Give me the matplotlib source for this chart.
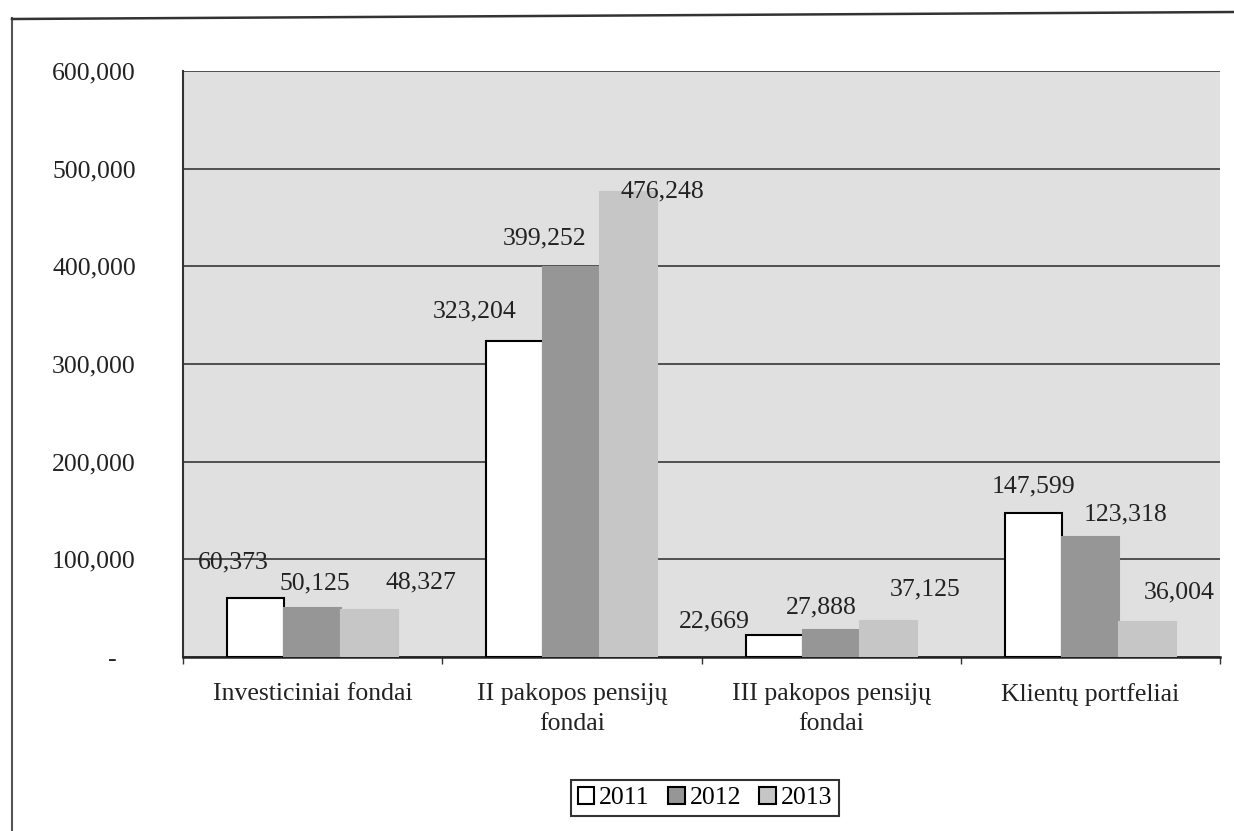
import matplotlib
matplotlib.use("Agg")
import matplotlib.pyplot as plt
from matplotlib.lines import Line2D
from matplotlib.ticker import FuncFormatter
import numpy as np

plt.rcParams['font.family'] = ['Liberation Serif', 'DejaVu Serif']

categories = ["Investiciniai fondai", "II pakopos pensijų\nfondai",
              "III pakopos pensijų\nfondai", "Klientų portfeliai"]
years = ["2011", "2012", "2013"]
values_2011 = [60373, 323204, 22669, 147599]
values_2012 = [50125, 399252, 27888, 123318]
values_2013 = [48327, 476248, 37125, 36004]
yticks = [0, 100000, 200000, 300000, 400000, 500000, 600000]

series = [values_2011, values_2012, values_2013]
face_colors = ["white", "#969696", "#c6c6c6"]
edge_colors = ["black", "#969696", "#c6c6c6"]
# label offsets in pixels relative to bar top centre (as placed in the original)
label_offsets = [
    [(-22, 36), (-40, 30), (-60, 13), (0, 26)],
    [(2, 25), (-27, 29), (-10, 22), (35, 22)],
    [(51, 27), (33, 0), (37, 31), (32, 29)],
]
FS = 18.5

fig = plt.figure(figsize=(12.34, 8.31), dpi=100)
ax = fig.add_axes([183/1234, 1-657/831, (1220-183)/1234, (657-71)/831])
ax.set_facecolor("#e0e0e0")

x = np.arange(len(categories))
w = 0.22
for i, (vals, fc, ec, yr) in enumerate(zip(series, face_colors, edge_colors, years)):
    pos = x + (i - 1) * w
    bars = ax.bar(pos, vals, width=w, color=fc, edgecolor=ec, linewidth=1.5,
                  label=yr, zorder=3)
    for j, (b, v) in enumerate(zip(bars, vals)):
        dx, dy = label_offsets[i][j]
        ax.annotate(f"{v:,}", (b.get_x() + b.get_width()/2, v),
                    xytext=(dx, dy), textcoords="offset pixels",
                    ha="center", va="center", fontsize=FS, color="#222222",
                    zorder=4)

ax.set_xlim(-0.5, len(categories) - 0.5)
ax.set_ylim(0, 600000)
ax.set_yticks(yticks)
ax.yaxis.set_major_formatter(FuncFormatter(lambda v, p: "-   " if v == 0 else f"{int(v):,}"))
ax.tick_params(axis="y", length=0, pad=34, labelsize=FS, labelcolor="#222222")
ax.grid(axis="y", color="#444444", linewidth=1.3, zorder=1)
ax.set_axisbelow(True)

ax.set_xticks(x)
ax.set_xticklabels(categories, fontsize=FS, color="#222222", linespacing=1.45)
ax.tick_params(axis="x", length=0, pad=19)
ax.set_xticks(np.arange(len(categories) + 1) - 0.5, minor=True)
ax.tick_params(axis="x", which="minor", length=5, width=1, color="#333333")

for s in ["top", "right"]:
    ax.spines[s].set_visible(False)
ax.spines["left"].set_color("#333333")
ax.spines["left"].set_linewidth(1.5)
ax.spines["bottom"].set_color("#222222")
ax.spines["bottom"].set_linewidth(1.8)

leg = fig.legend(loc="center", bbox_to_anchor=(705/1234, 1-798/831), ncol=3,
                 fontsize=FS, frameon=True, fancybox=False, edgecolor="black",
                 handlelength=0.65, handleheight=0.65, handletextpad=0.2,
                 columnspacing=0.7, borderpad=0.25)
leg.get_frame().set_linewidth(1.5)
for h in leg.legend_handles:
    h.set_edgecolor("black")

# outer frame of the scanned figure
fig.add_artist(Line2D([12/1234, 12/1234], [0, 1-18/831], color="#555555", linewidth=1.5))
fig.add_artist(Line2D([12/1234, 1.0], [1-19/831, 1-12/831], color="#333333", linewidth=1.8))

fig.savefig("out.png", dpi=100)
